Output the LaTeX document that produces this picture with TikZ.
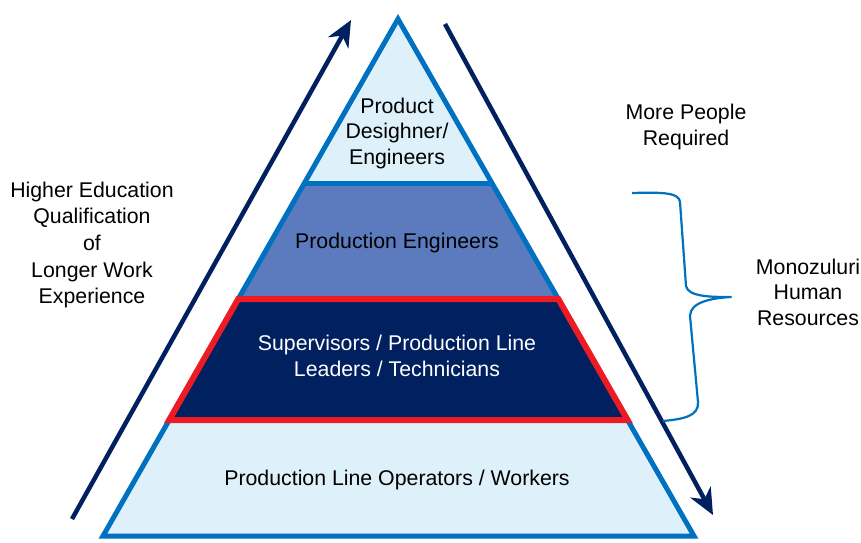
\documentclass[tikz,border=0pt]{standalone}
\usepackage{fontspec}
\setmainfont{Liberation Sans}
\usetikzlibrary{arrows.meta,calc}
\definecolor{pyrblue}{RGB}{0,112,192}
\definecolor{pyrlight}{RGB}{222,241,251}
\definecolor{pyrmid}{RGB}{91,123,190}
\definecolor{pyrnavy}{RGB}{0,32,96}
\definecolor{pyrred}{RGB}{237,28,36}
\begin{document}
\begin{tikzpicture}[x=1pt,y=-1pt,>={Stealth[length=26pt,width=23pt,inset=8pt]},
                    lbl/.style={align=center,font=\fontsize{21.3}{25.5}\selectfont},
                    side/.style={line width=4.5pt,pyrnavy},
                    edge/.style={line width=5pt,pyrblue,line join=miter}]
                  \useasboundingbox (0,0) rectangle (861,542);
                  \coordinate (A) at (398,19);
                  \coordinate (L) at (103,536);
                  \coordinate (R) at (694,536);

                  % layers of the pyramid
                  \fill[pyrlight] (A) -- (L) -- (R) -- cycle;
                  \fill[pyrmid] ($(L)!0.681!(A)$) -- ($(L)!0.458!(A)$) -- ($(R)!0.458!(A)$) -- ($(R)!0.681!(A)$) -- cycle;
                  \draw[edge] ($(L)!0.681!(A)$) -- ($(R)!0.681!(A)$);
                  \draw[edge] (A) -- (L) -- (R) -- cycle;
                  \draw[line width=6pt,pyrred,fill=pyrnavy,line join=miter]
                      ($(L)!0.458!(A)$) -- ($(L)!0.224!(A)$) -- ($(R)!0.224!(A)$) -- ($(R)!0.458!(A)$) -- cycle;

                  \node[lbl] (top)  at (397,133) {Product\\Desighner/\\Engineers};
                  \node[lbl] (mid)  at (397,243) {Production Engineers};
                  \node[lbl,text=white] (sup) at (397,356) {Supervisors / Production Line\\Leaders / Technicians};
                  \node[lbl] (base) at (397,480) {Production Line Operators / Workers};

                  % side notes
                  \node[lbl,font=\fontsize{21.3}{26.7}\selectfont] (edu) at (92,245)
                      {Higher Education\\Qualification\\of\\Longer Work\\Experience};
                  \node[lbl] (more) at (686,127) {More People\\Required};
                  \node[lbl] (hr)   at (808,292) {Monozuluri\\Human\\Resources};

                  \coordinate (upS) at (72,519);
                  \coordinate (upE) at (351,20);
                  \coordinate (dnS) at (445,24);
                  \coordinate (dnE) at (713,515);
                  \draw[side,->] (upS) -- (upE);
                  \draw[side,->] (dnS) -- (dnE);

                  % brace
                  \coordinate (brT) at (632,193);
                  \coordinate (brM) at (731,297);
                  \coordinate (brB) at (663,421);
                  \draw[pyrblue,line width=2.2pt,line join=round]
                      (brT) .. controls (665,192) and (679,193) .. (680,202)
                      -- (686,286) .. controls (688,297) and (712,297) .. (brM)
                      .. controls (712,298) and (690,302) .. (690,316)
                      -- (698,402) .. controls (699,416) and (684,419) .. (brB);
        \end{tikzpicture}
\end{document}
